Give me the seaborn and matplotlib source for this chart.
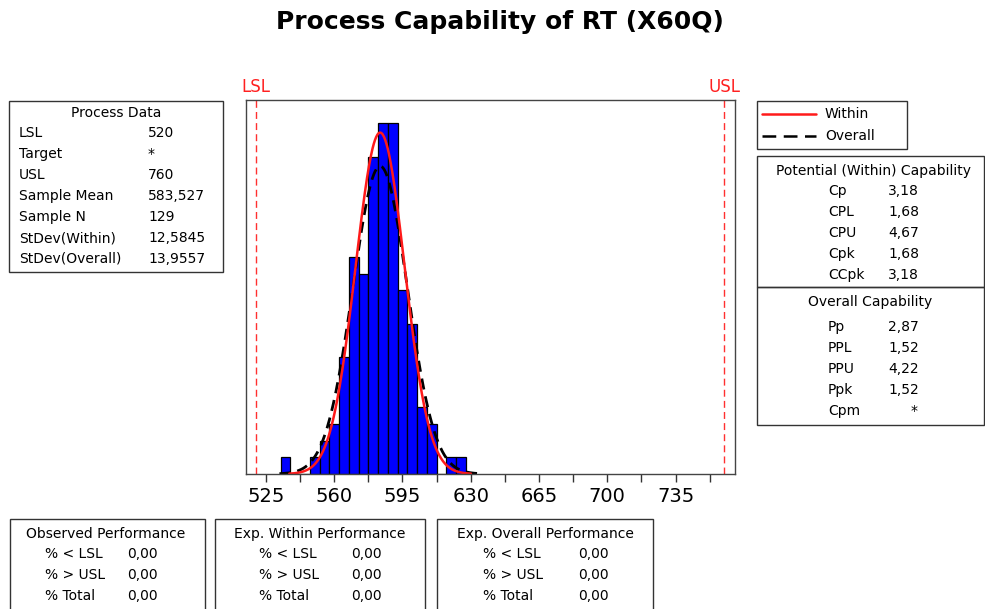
import numpy as np
import pandas as pd
import matplotlib
matplotlib.use("Agg")
import matplotlib.pyplot as plt
from matplotlib.patches import Rectangle
from matplotlib.lines import Line2D
import seaborn as sns

# --- histogram data (bin centres, width 5) ---
bin_centers = [535, 540, 545, 550, 555, 560, 565, 570, 575, 580, 585, 590,
               595, 600, 605, 610, 615, 620, 625]
bin_counts = [1, 0, 0, 1, 2, 3, 7, 13, 12, 19, 21, 21, 11, 9, 4, 3, 0, 1, 1]
bin_width = 5

# --- process data ---
lsl, usl = 520, 760
sample_mean = 583.527
sample_n = 129
sd_within = 12.5845
sd_overall = 13.9557

x_ticks = [525, 560, 595, 630, 665, 700, 735]

process_rows = [("LSL", "520"), ("Target", "*"), ("USL", "760"),
                ("Sample Mean", "583,527"), ("Sample N", "129"),
                ("StDev(Within)", "12,5845"), ("StDev(Overall)", "13,9557")]
within_rows = [("Cp", "3,18"), ("CPL", "1,68"), ("CPU", "4,67"),
               ("Cpk", "1,68"), ("CCpk", "3,18")]
overall_rows = [("Pp", "2,87"), ("PPL", "1,52"), ("PPU", "4,22"),
                ("Ppk", "1,52"), ("Cpm", "*")]
perf_titles = ["Observed Performance", "Exp. Within Performance",
               "Exp. Overall Performance"]
perf_labels = ["% < LSL", "% > USL", "% Total"]
perf_values = [["0,00", "0,00", "0,00"],
               ["0,00", "0,00", "0,00"],
               ["0,00", "0,00", "0,00"]]

sns.set_style("white")
plt.rcParams["font.family"] = ["DejaVu Sans"]
plt.rcParams["text.color"] = "black"
plt.rcParams["xtick.color"] = "black"

W, H = 985, 609
fig = plt.figure(figsize=(W / 100, H / 100), dpi=100)


def fx(px):
    return px / W


def fy(py):
    return 1 - py / H


# main histogram axes
ax = fig.add_axes([fx(246), fy(474), fx(735) - fx(246), fy(100) - fy(474)])

hist_df = pd.DataFrame({"x": bin_centers, "n": bin_counts})
sns.histplot(data=hist_df, x="x", weights="n", binwidth=bin_width,
             binrange=(bin_centers[0] - bin_width / 2, bin_centers[-1] + bin_width / 2),
             color="#0000ff", edgecolor="black", linewidth=0.9, alpha=1.0,
             ax=ax)


def normal_curve(mu, sd, span=3.7):
    xs = np.linspace(mu - span * sd, mu + span * sd, 300)
    ys = sample_n * bin_width * np.exp(-0.5 * ((xs - mu) / sd) ** 2) / (sd * np.sqrt(2 * np.pi))
    return xs, ys


xo, yo = normal_curve(sample_mean, sd_overall)
sns.lineplot(x=xo, y=yo, color="black", linestyle=(0, (4, 2.5)), linewidth=2.0, ax=ax)
xw, yw = normal_curve(sample_mean, sd_within)
sns.lineplot(x=xw, y=yw, color="#ff1a1a", linewidth=1.8, ax=ax)

for spec, name in [(lsl, "LSL"), (usl, "USL")]:
    ax.axvline(spec, color="#ff3030", linestyle=(0, (5, 3)), linewidth=1.0)
    ax.text(spec, 1.01, name, transform=ax.get_xaxis_transform(), ha="center",
            va="bottom", color="#ff2020", fontsize=12)

ax.set_xlim(514.75, 765.5)
ax.set_ylim(0, 22.4)
ax.set_xticks(x_ticks)
ax.set_xticks([t + 17.5 for t in x_ticks], minor=True)
ax.set_yticks([])
ax.set_xlabel("")
ax.set_ylabel("")
ax.tick_params(axis="x", which="both", direction="out", length=6, width=1,
               bottom=True, color="#333333", labelsize=14, pad=3)
for s in ax.spines.values():
    s.set_color("#444444")
    s.set_linewidth(1.0)

fig.text(fx(500), fy(22), "Process Capability of RT (X60Q)", ha="center",
         va="center", fontsize=18, fontweight="bold")

FS = 10


def box(x0, y0, x1, y1):
    fig.patches.append(Rectangle((fx(x0), fy(y1)), fx(x1) - fx(x0),
                                 fy(y0) - fy(y1), transform=fig.transFigure,
                                 fill=False, edgecolor="#333333",
                                 linewidth=1.0))


def txt(x, y, s, ha="left"):
    fig.text(fx(x), fy(y), s, ha=ha, va="center", fontsize=FS)


# Process Data box
box(9, 101, 223, 272)
txt(116, 113, "Process Data", ha="center")
for i, (lab, val) in enumerate(process_rows):
    y = 133 + i * 21
    txt(19, y, lab)
    txt(148, y, val)

# legend box
box(757, 101, 907, 149)
fig.lines.append(Line2D([fx(762), fx(816)], [fy(114), fy(114)],
                        transform=fig.transFigure, color="#ff1a1a", linewidth=1.8))
fig.lines.append(Line2D([fx(762), fx(816)], [fy(136), fy(136)],
                        transform=fig.transFigure, color="black", linewidth=1.8,
                        linestyle=(0, (5.5, 3))))
txt(825, 114, "Within")
txt(825, 136, "Overall")

# capability boxes
box(757, 156, 984, 287)
box(757, 287, 984, 425)
txt(873, 171, "Potential (Within) Capability", ha="center")
for i, (lab, val) in enumerate(within_rows):
    y = 191 + i * 21
    txt(828, y, lab)
    txt(888, y, val)
txt(870, 302, "Overall Capability", ha="center")
for i, (lab, val) in enumerate(overall_rows):
    y = 327 + i * 21
    txt(828, y, lab)
    if val == "*":
        txt(914, y, val, ha="center")
    else:
        txt(888, y, val)

# performance boxes
perf_boxes = [(10, 205, 106, 45, 127), (215, 425, 320, 259, 351),
              (437, 653, 545, 483, 578)]
for (x0, x1, xc, xl, xv), title, vals in zip(perf_boxes, perf_titles, perf_values):
    box(x0, 519, x1, 612)
    txt(xc, 534, title, ha="center")
    for i, (lab, val) in enumerate(zip(perf_labels, vals)):
        y = 554 + i * 21
        txt(xl, y, lab)
        txt(xv, y, val)

fig.savefig("out.png", dpi=100)
